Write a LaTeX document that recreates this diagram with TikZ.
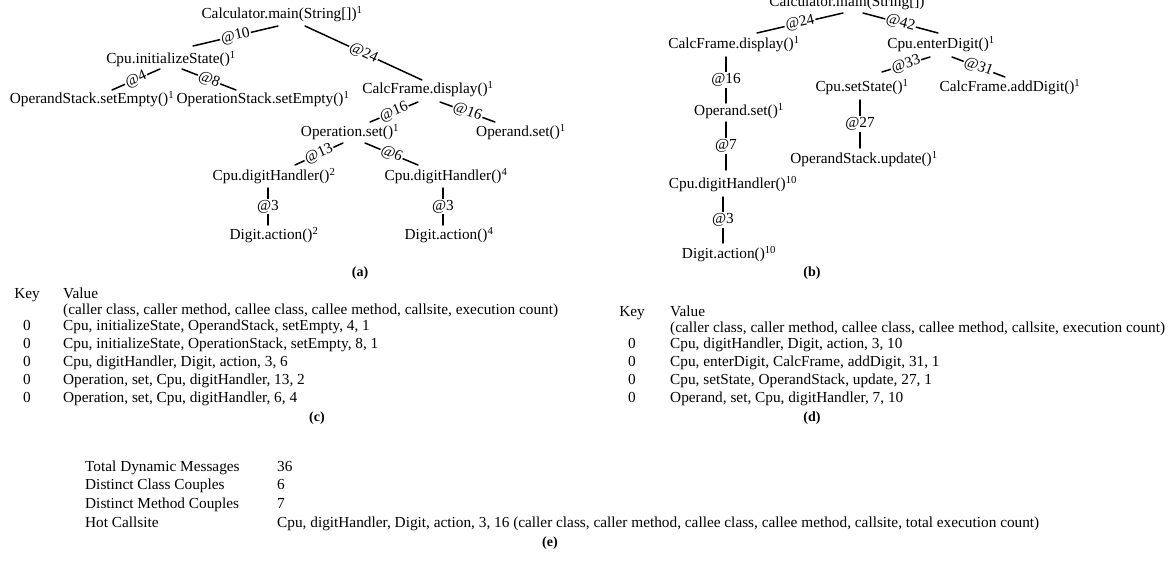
\documentclass[tikz,border=0pt]{standalone}
\usepackage{fontspec}
\setmainfont{Liberation Serif}
\usetikzlibrary{calc}
\begin{document}
\begin{tikzpicture}[x=1pt,y=-1pt,
  every node/.style={font=\fontsize{15.3}{18}\selectfont, inner sep=0pt},
  tn/.style={text height=10.5pt, text depth=3.5pt},
  edge/.style={line width=1.5pt, line cap=round},
  lbl/.style={sloped, fill=white, inner sep=1pt, text height=10pt, text depth=2.5pt},
  vlbl/.style={fill=white, inner sep=1.5pt, text height=10pt, text depth=2.5pt},
  captext/.style={font=\fontsize{14}{16}\selectfont\bfseries, tn},
  lt/.style={anchor=west, tn},
  ct/.style={tn}
]
\useasboundingbox (0,0) rectangle (1169,565);

% ---------------- tree (a) ----------------
\node[ct] (ra)   at (282,15)  {Calculator.main(String[])\textsuperscript{1}};
\node[ct] (ci)   at (171,60)  {Cpu.initializeState()\textsuperscript{1}};
\node[ct] (osE)  at (92,100)  {OperandStack.setEmpty()\textsuperscript{1}};
\node[ct] (opsE) at (263,100) {OperationStack.setEmpty()\textsuperscript{1}};
\node[ct] (cfd)  at (428,90)  {CalcFrame.display()\textsuperscript{1}};
\node[ct] (opset) at (350,133) {Operation.set()\textsuperscript{1}};
\node[ct] (oset) at (521,133) {Operand.set()\textsuperscript{1}};
\node[ct] (dhb)  at (274,177) {Cpu.digitHandler()\textsuperscript{2}};
\node[ct] (dhd)  at (446,177) {Cpu.digitHandler()\textsuperscript{4}};
\node[ct] (dab)  at (274,236) {Digit.action()\textsuperscript{2}};
\node[ct] (dad)  at (449,236) {Digit.action()\textsuperscript{4}};
\node[captext] (capa) at (360,273) {(a)};

\draw[edge] ($(ra)+(-4,11)$) -- node[lbl]{@10} ($(ci)+(22,-14)$);
\draw[edge] ($(ra)+(23,11)$) -- node[lbl]{@24} ($(cfd)+(-6,-10)$);
\draw[edge] ($(ci)+(-11,9)$) -- node[lbl]{@4} ($(osE)+(20,-10)$);
\draw[edge] ($(ci)+(11,9)$) -- node[lbl]{@8} ($(opsE)+(-27,-10)$);
\draw[edge] ($(cfd)+(-10,12)$) -- node[lbl]{@16} ($(opset)+(20,-11)$);
\draw[edge] ($(cfd)+(12,12)$) -- node[lbl]{@16} ($(oset)+(-26,-11)$);
\draw[edge] ($(opset)+(-7,10)$) -- node[lbl]{@13} ($(dhb)+(21,-12)$);
\draw[edge] ($(opset)+(15,10)$) -- node[lbl]{@6} ($(dhd)+(-28,-12)$);
\draw[edge] ($(dhb)+(-6,11)$) -- node[vlbl]{@3} ($(dab)+(-6,-11)$);
\draw[edge] ($(dhd)+(-3,11)$) -- node[vlbl]{@3} ($(dad)+(-6,-11)$);

% ---------------- tree (b) ----------------
\node[ct] (rb)   at (847,3)   {Calculator.main(String[])};
\node[ct] (cfdb) at (734,45)  {CalcFrame.display()\textsuperscript{1}};
\node[ct] (ced)  at (941,45)  {Cpu.enterDigit()\textsuperscript{1}};
\node[ct] (osb)  at (739,112) {Operand.set()\textsuperscript{1}};
\node[ct] (csb)  at (862,88)  {Cpu.setState()\textsuperscript{1}};
\node[ct] (cad)  at (1010,88) {CalcFrame.addDigit()\textsuperscript{1}};
\node[ct] (osu)  at (864,160) {OperandStack.update()\textsuperscript{1}};
\node[ct] (dhx)  at (733,185) {Cpu.digitHandler()\textsuperscript{10}};
\node[ct] (dax)  at (729,255) {Digit.action()\textsuperscript{10}};
\node[captext] (capb) at (812,273) {(b)};

\draw[edge] ($(rb)+(-4,10)$) -- node[lbl]{@24} ($(cfdb)+(23,-12)$);
\draw[edge] ($(rb)+(16,10)$) -- node[lbl]{@42} ($(ced)+(-3,-12)$);
\draw[edge] ($(cfdb)+(-8,12)$) -- node[vlbl]{@16} ($(osb)+(-13,-9)$);
\draw[edge] ($(osb)+(-13,10)$) -- node[vlbl]{@7} ($(dhx)+(-7,-15)$);
\draw[edge] ($(dhx)+(-10,12)$) -- node[vlbl]{@3} ($(dax)+(-6,-12)$);
\draw[edge] ($(ced)+(-11,12)$) -- node[lbl]{@33} ($(csb)+(20,-16)$);
\draw[edge] ($(ced)+(11,12)$) -- node[lbl]{@31} ($(cad)+(-5,-11)$);
\draw[edge] ($(csb)+(-2,12)$) -- node[vlbl]{@27} ($(osu)+(-4,-12)$);

% ---------------- table (c) ----------------
\node[ct] (ckey) at (27,295) {Key};
\node[lt] (cval) at (63,295) {Value};
\node[lt] (chdr) at (63,311) {(caller class, caller method, callee class, callee method, callsite, execution count)};
\node[ct] (ck1) at (27,327) {0};
\node[lt] (cv1) at (63,327) {Cpu, initializeState, OperandStack, setEmpty, 4, 1};
\node[ct] (ck2) at (27,345) {0};
\node[lt] (cv2) at (63,345) {Cpu, initializeState, OperationStack, setEmpty, 8, 1};
\node[ct] (ck3) at (27,363) {0};
\node[lt] (cv3) at (63,363) {Cpu, digitHandler, Digit, action, 3, 6};
\node[ct] (ck4) at (27,381) {0};
\node[lt] (cv4) at (63,381) {Operation, set, Cpu, digitHandler, 13, 2};
\node[ct] (ck5) at (27,399) {0};
\node[lt] (cv5) at (63,399) {Operation, set, Cpu, digitHandler, 6, 4};
\node[captext] (capc) at (317,418) {(c)};

% ---------------- table (d) ----------------
\node[ct] (dkey) at (632,313) {Key};
\node[lt] (dval) at (670,313) {Value};
\node[lt] (dhdr) at (670,329) {(caller class, caller method, callee class, callee method, callsite, execution count)};
\node[ct] (dk1) at (632,345) {0};
\node[lt] (dv1) at (670,345) {Cpu, digitHandler, Digit, action, 3, 10};
\node[ct] (dk2) at (632,363) {0};
\node[lt] (dv2) at (670,363) {Cpu, enterDigit, CalcFrame, addDigit, 31, 1};
\node[ct] (dk3) at (632,381) {0};
\node[lt] (dv3) at (670,381) {Cpu, setState, OperandStack, update, 27, 1};
\node[ct] (dk4) at (632,399) {0};
\node[lt] (dv4) at (670,399) {Operand, set, Cpu, digitHandler, 7, 10};
\node[captext] (capd) at (812,418) {(d)};

% ---------------- table (e) ----------------
\node[lt] (e1l) at (85,468) {Total Dynamic Messages};
\node[lt] (e1v) at (277,468) {36};
\node[lt] (e2l) at (85,486) {Distinct Class Couples};
\node[lt] (e2v) at (277,486) {6};
\node[lt] (e3l) at (85,505) {Distinct Method Couples};
\node[lt] (e3v) at (277,505) {7};
\node[lt] (e4l) at (85,524) {Hot Callsite};
\node[lt] (e4v) at (277,524) {Cpu, digitHandler, Digit, action, 3, 16 (caller class, caller method, callee class, callee method, callsite, total execution count)};
\node[captext] (cape) at (550,543) {(e)};
\end{tikzpicture}
\end{document}
